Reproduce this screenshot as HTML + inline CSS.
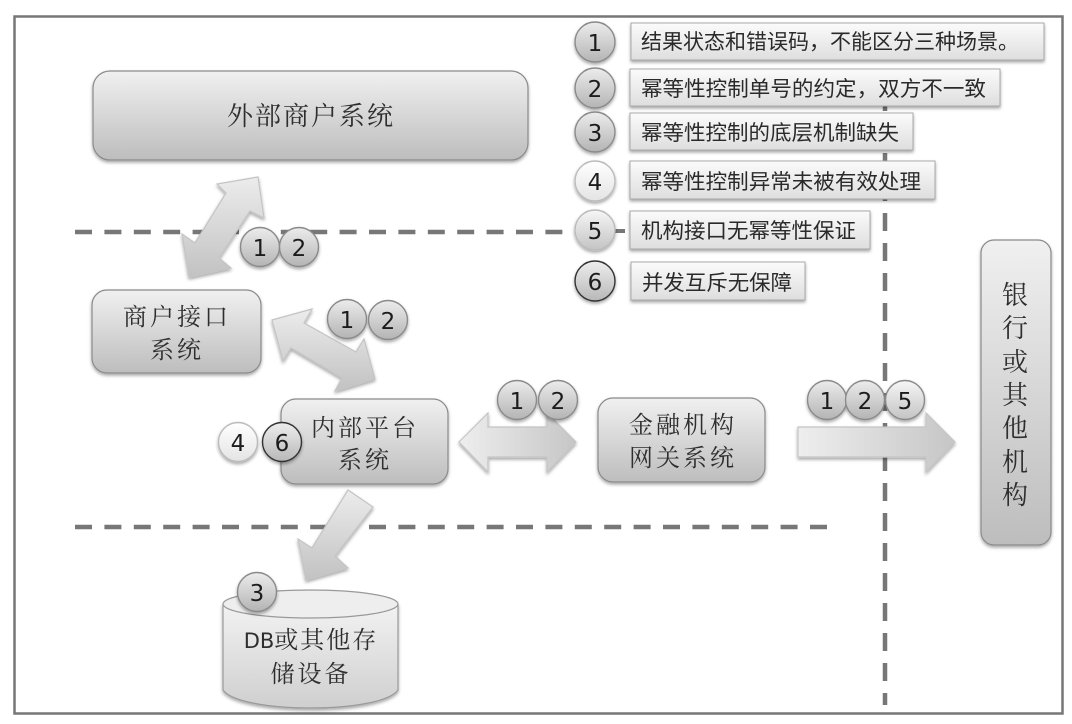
<!DOCTYPE html>
<html><head><meta charset="utf-8">
<style>
html,body{margin:0;padding:0;background:#fff}
svg{display:block}
.n{font-family:"Noto Serif CJK SC","Noto Serif CJK JP","Liberation Serif",serif;fill:#2e2e2e;text-anchor:middle;font-weight:400}
.l{font-family:"Liberation Sans","Noto Sans CJK SC",sans-serif;font-size:21px;fill:#2a2a2a}
.d{font-family:"DejaVu Sans","Liberation Sans",sans-serif;font-size:23px;fill:#1c1c1c;text-anchor:middle}
</style></head><body>
<svg width="1072" height="724" viewBox="0 0 1072 724" xmlns="http://www.w3.org/2000/svg">
<defs>
<linearGradient id="g" x1="0" y1="0" x2="0" y2="1"><stop offset="0" stop-color="#f0f0f0"/><stop offset="1" stop-color="#bdbdbd"/></linearGradient>
<linearGradient id="leg" x1="0" y1="0" x2="0" y2="1"><stop offset="0" stop-color="#fbfbfb"/><stop offset="1" stop-color="#dedede"/></linearGradient>
<linearGradient id="ah" x1="0" y1="0" x2="1" y2="0"><stop offset="0" stop-color="#eeeeee"/><stop offset="1" stop-color="#c6c6c6"/></linearGradient>
<linearGradient id="av" x1="0" y1="0" x2="0" y2="1"><stop offset="0" stop-color="#ececec"/><stop offset="1" stop-color="#c2c2c2"/></linearGradient>
<linearGradient id="c" x1="0" y1="0" x2="0" y2="1"><stop offset="0" stop-color="#ececec"/><stop offset="1" stop-color="#b4b4b4"/></linearGradient>
<linearGradient id="c4" x1="0" y1="0" x2="0" y2="1"><stop offset="0" stop-color="#fff"/><stop offset="1" stop-color="#e4e4e4"/></linearGradient>
<linearGradient id="c5" x1="0" y1="0" x2="0" y2="1"><stop offset="0" stop-color="#f6f6f6"/><stop offset="1" stop-color="#c4c4c4"/></linearGradient>
<linearGradient id="c6" x1="0" y1="0" x2="0" y2="1"><stop offset="0" stop-color="#eeeeee"/><stop offset="1" stop-color="#b8b8b8"/></linearGradient>
<linearGradient id="db" x1="0" y1="0" x2="0" y2="1"><stop offset="0" stop-color="#f2f2f2"/><stop offset="1" stop-color="#cfcfcf"/></linearGradient>
<filter id="s" x="-10%" y="-10%" width="120%" height="125%"><feDropShadow dx="0" dy="2" stdDeviation="1.5" flood-color="#000" flood-opacity=".35"/></filter>
<filter id="b" x="-5%" y="-5%" width="110%" height="110%"><feGaussianBlur stdDeviation=".35"/></filter>
</defs>
<g filter="url(#b)">
<rect x="14.5" y="16.5" width="1048" height="697" fill="#fff" stroke="#777" stroke-width="2.5"/>
<g stroke="#777" stroke-width="4.5" fill="none" stroke-dasharray="17 12.4">
<line x1="75" y1="232" x2="580" y2="232"/>
<line x1="75" y1="527" x2="832" y2="527"/>
<line x1="885" y1="93" x2="885" y2="705" stroke-dasharray="18 12"/>
</g>
<line x1="614" y1="231" x2="625" y2="231" stroke="#777" stroke-width="4"/>

<rect x="93" y="71" width="435" height="89" rx="17" fill="url(#g)" stroke="#8a8a8a" stroke-width="1.2" filter="url(#s)"/>
<text class="n" x="311" y="125" font-size="26" letter-spacing="2">外部商户系统</text>
<rect x="92" y="290" width="169" height="83" rx="15" fill="url(#g)" stroke="#8a8a8a" stroke-width="1.2" filter="url(#s)"/>
<text class="n" x="177" y="325" font-size="24" letter-spacing="3">商户接口</text>
<text class="n" x="177" y="358" font-size="24" letter-spacing="3">系统</text>
<rect x="281" y="399" width="167" height="85" rx="15" fill="url(#g)" stroke="#8a8a8a" stroke-width="1.2" filter="url(#s)"/>
<text class="n" x="365" y="436" font-size="24" letter-spacing="3">内部平台</text>
<text class="n" x="365" y="468" font-size="24" letter-spacing="3">系统</text>
<rect x="598" y="398" width="167" height="84" rx="15" fill="url(#g)" stroke="#8a8a8a" stroke-width="1.2" filter="url(#s)"/>
<text class="n" x="683" y="433" font-size="24" letter-spacing="3">金融机构</text>
<text class="n" x="683" y="466" font-size="24" letter-spacing="3">网关系统</text>
<rect x="981" y="240" width="70" height="305" rx="13" fill="url(#g)" stroke="#8a8a8a" stroke-width="1.2" filter="url(#s)"/>
<text class="n" x="1015" y="304" font-size="26">银</text><text class="n" x="1015" y="337" font-size="26">行</text><text class="n" x="1015" y="371" font-size="26">或</text><text class="n" x="1015" y="404" font-size="26">其</text><text class="n" x="1015" y="437" font-size="26">他</text><text class="n" x="1015" y="471" font-size="26">机</text><text class="n" x="1015" y="504" font-size="26">构</text>

<path d="M223 604 V690 C240 714 381 714 398 690 V604 Z" fill="url(#db)" stroke="#999" stroke-width="1.2" filter="url(#s)"/>
<ellipse cx="310.500" cy="604" rx="87.500" ry="14" fill="#eeeeee" stroke="#999" stroke-width="1.2"/>
<text class="n" x="311" y="648" font-size="24" letter-spacing="2"><tspan font-family="DejaVu Sans" font-size="21" letter-spacing="0">DB</tspan>或其他存</text>
<text class="n" x="311" y="682" font-size="24" letter-spacing="3">储设备</text>

<g stroke="#c4c4c4" stroke-width="1.2" filter="url(#s)">
<polygon fill="url(#av)" points="258,177 264,218 250,211 219,258 231,268 189,277 182,234 195,243 226,193 217,184"/>
<polygon fill="url(#av)" points="272,320 312,309 304,323 356,352 364,339 375,379 335,391 342,378 291,348 283,361"/>
<polygon fill="url(#ah)" points="459,442 488,413 488,427 547,427 547,413 576,442 547,472 547,457 488,457 488,472"/>
<polygon fill="url(#ah)" points="798,427 926,427 926,413 955,442 926,472 926,457 798,457"/>
<polygon fill="url(#av)" points="348,490 373,507 335,556 348,568 306,580 298,539 312,548"/>
</g>

<g stroke="#8a8a8a" stroke-width="1.4" filter="url(#s)">
<circle cx="260" cy="247" r="19.500" fill="url(#c)"/><circle cx="299" cy="247" r="19.500" fill="url(#c)"/>
<circle cx="347" cy="319" r="19.500" fill="url(#c)"/><circle cx="388" cy="320" r="19.500" fill="url(#c)"/>
<circle cx="517" cy="400" r="19.500" fill="url(#c)"/><circle cx="558" cy="400" r="19.500" fill="url(#c)"/>
<circle cx="827" cy="400" r="19.500" fill="url(#c)"/><circle cx="865" cy="400" r="19.500" fill="url(#c)"/><circle cx="905" cy="400" r="19.500" fill="url(#c5)"/>
<circle cx="238" cy="442" r="19.500" fill="url(#c4)" stroke="#bbb"/><circle cx="282" cy="442" r="19.500" fill="url(#c6)" stroke="#333"/>
<circle cx="257" cy="592" r="19.500" fill="url(#c)"/>
<circle cx="595" cy="42" r="20" fill="url(#c)"/><circle cx="595" cy="88" r="20" fill="url(#c)"/><circle cx="595" cy="132" r="20" fill="url(#c)"/>
<circle cx="595" cy="181" r="20" fill="url(#c4)" stroke="#bbb"/><circle cx="595" cy="230" r="20" fill="url(#c5)" stroke="#bbb"/><circle cx="595" cy="281" r="20" fill="url(#c6)" stroke="#333"/>
</g>
<text class="d" x="260" y="256">1</text><text class="d" x="299" y="256">2</text>
<text class="d" x="347" y="328">1</text><text class="d" x="388" y="329">2</text>
<text class="d" x="517" y="409">1</text><text class="d" x="558" y="409">2</text>
<text class="d" x="827" y="409">1</text><text class="d" x="865" y="409">2</text><text class="d" x="905" y="409">5</text>
<text class="d" x="238" y="451">4</text><text class="d" x="282" y="451">6</text>
<text class="d" x="257" y="601">3</text>
<text class="d" x="595" y="51">1</text><text class="d" x="595" y="97">2</text><text class="d" x="595" y="141">3</text><text class="d" x="595" y="190">4</text><text class="d" x="595" y="239">5</text><text class="d" x="595" y="290">6</text>

<g fill="url(#leg)" stroke="#aaa" stroke-width="1" filter="url(#s)">
<rect x="631" y="23" width="413" height="37"/>
<rect x="630" y="69" width="370" height="37"/>
<rect x="630" y="113" width="283" height="37"/>
<rect x="630" y="161" width="305" height="38"/>
<rect x="630" y="211" width="240" height="38"/>
<rect x="631" y="262" width="174" height="38"/>
</g>
<text class="l" x="641" y="49" textLength="378" lengthAdjust="spacingAndGlyphs">结果状态和错误码，不能区分三种场景。</text>
<text class="l" x="641" y="96" textLength="345" lengthAdjust="spacingAndGlyphs">幂等性控制单号的约定，双方不一致</text>
<text class="l" x="641" y="140" textLength="258" lengthAdjust="spacingAndGlyphs">幂等性控制的底层机制缺失</text>
<text class="l" x="641" y="189" textLength="280" lengthAdjust="spacingAndGlyphs">幂等性控制异常未被有效处理</text>
<text class="l" x="641" y="238" textLength="215" lengthAdjust="spacingAndGlyphs">机构接口无幂等性保证</text>
<text class="l" x="642" y="290" textLength="150" lengthAdjust="spacingAndGlyphs">并发互斥无保障</text>
</g>
</svg>
</body></html>
